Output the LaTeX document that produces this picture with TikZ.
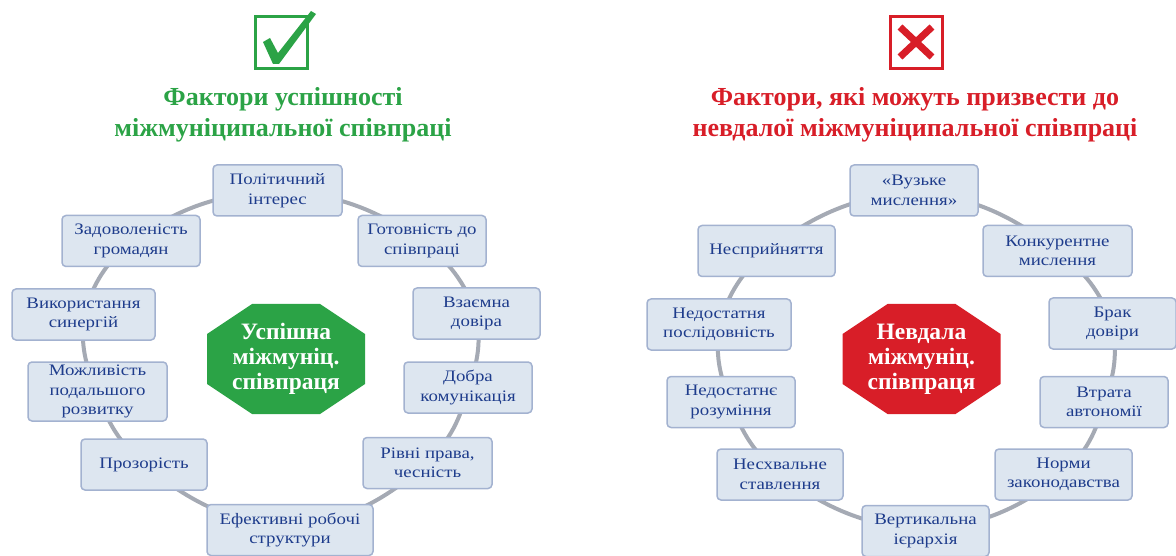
\documentclass[tikz,border=0pt]{standalone}
\usepackage{fontspec}
\setmainfont{Liberation Serif}
\newfontfamily\boxfont[FakeStretch=1.18]{Liberation Serif}
\usepackage{xcolor}
\usetikzlibrary{positioning}
\usetikzlibrary{backgrounds}
\definecolor{okgreen}{RGB}{43,163,70}
\definecolor{badred}{RGB}{216,30,40}
\definecolor{boxfill}{RGB}{221,230,240}
\definecolor{boxline}{RGB}{163,178,208}
\definecolor{boxtext}{RGB}{30,60,140}
\definecolor{ringgray}{RGB}{165,170,180}
\newcommand{\octagon}[2]{\fill[#2] ([shift={(-34,55)}]#1) -- ([shift={(34,55)}]#1)
  -- ([shift={(79,25)}]#1) -- ([shift={(79,-25)}]#1) -- ([shift={(34,-55)}]#1)
  -- ([shift={(-34,-55)}]#1) -- ([shift={(-79,-25)}]#1) -- ([shift={(-79,25)}]#1) -- cycle;}

\begin{document}
\begin{tikzpicture}[x=1pt,y=1pt,
  main node/.style={rectangle,rounded corners=4pt,draw=boxline,line width=1.5pt,
    fill=boxfill,text=boxtext,align=center,inner sep=0pt,minimum height=51pt,
    font=\boxfont\fontsize{16}{19.5}\selectfont},
  hub node/.style={text=white,align=center,font=\bfseries\fontsize{23.5}{25}\selectfont},
  title node/.style={align=center,font=\bfseries\fontsize{26}{30.5}\selectfont},
  mark node/.style={draw,line width=3pt,minimum size=52pt,inner sep=0pt}]

  \useasboundingbox (0,0) rectangle (1176,-556);

  % left: success factors
  \node[mark node,draw=okgreen] (okmark) at (281,-42.5) {};
  \fill[okgreen] (263,-42) -- (270,-38) -- (278,-53) -- (311,-11) -- (316,-14)
    -- (279,-64) -- (273,-64) -- cycle;
  \node[title node,text=okgreen] (oktitle) at (283,-115)
    {Фактори успішності\\міжмуніципальної співпраці};

  \coordinate (okc) at (286,-359);
  \octagon{okc}{okgreen}
  \node[hub node] (ok) at (okc) {Успішна\\міжмуніц.\\співпраця};

  \node[main node,minimum width=129pt] (l1) at (277.5,-190.5) {Політичний\\інтерес};
  \node[main node,minimum width=128pt] (l2) at (422,-241) {Готовність до\\співпраці};
  \node[main node,minimum width=127pt] (l3) at (476.5,-313.5) {Взаємна\\довіра};
  \node[main node,minimum width=128pt] (l4) at (468,-387.5) {Добра\\комунікація};
  \node[main node,minimum width=129pt] (l5) at (427.5,-463) {Рівні права,\\чесність};
  \node[main node,minimum width=166pt] (l6) at (290,-530) {Ефективні робочі\\структури};
  \node[main node,minimum width=126pt] (l7) at (144,-464.5) {Прозорість};
  \node[main node,minimum width=139pt,minimum height=59pt] (l8) at (97.5,-391.5)
    {Можливість\\подальшого\\розвитку};
  \node[main node,minimum width=143pt] (l9) at (83.5,-314.5) {Використання\\синергій};
  \node[main node,minimum width=138pt] (l10) at (131,-241) {Задоволеність\\громадян};

  % right: failure factors
  \node[mark node,draw=badred] (badmark) at (916.5,-42.5) {};
  \draw[badred,line width=7pt] (900,-27) -- (932,-57) (932,-27) -- (900,-57);
  \node[title node,text=badred] (badtitle) at (915,-115)
    {Фактори, які можуть призвести до\\невдалої міжмуніципальної співпраці};

  \coordinate (badc) at (921.5,-359);
  \octagon{badc}{badred}
  \node[hub node] (bad) at (badc) {Невдала\\міжмуніц.\\співпраця};

  \node[main node,minimum width=128pt] (r1) at (914,-190.5) {«Вузьке\\мислення»};
  \node[main node,minimum width=149pt] (r2) at (1057.5,-251) {Конкурентне\\мислення};
  \node[main node,minimum width=127pt] (r3) at (1112.5,-323.5) {Брак\\довіри};
  \node[main node,minimum width=128pt] (r4) at (1104,-402) {Втрата\\автономії};
  \node[main node,minimum width=137pt] (r5) at (1063.5,-474.5) {Норми\\законодавства};
  \node[main node,minimum width=127pt] (r6) at (925.5,-531) {Вертикальна\\ієрархія};
  \node[main node,minimum width=126pt] (r7) at (780,-474.5) {Несхвальне\\ставлення};
  \node[main node,minimum width=128pt] (r8) at (731,-402) {Недостатнє\\розуміння};
  \node[main node,minimum width=144pt] (r9) at (719,-324.5) {Недостатня\\послідовність};
  \node[main node,minimum width=137pt] (r10) at (766.5,-251) {Несприйняття};

  % rings behind the boxes
  \begin{scope}[on background layer]
    \foreach \a/\b in {1/2,2/3,3/4,4/5,5/6,6/7,7/8,8/9,9/10,10/1}
      \path[draw=ringgray,line width=4pt]
        (l\a.center) edge[bend left=15] (l\b.center)
        (r\a.center) edge[bend left=15] (r\b.center);
  \end{scope}
\end{tikzpicture}
\end{document}
